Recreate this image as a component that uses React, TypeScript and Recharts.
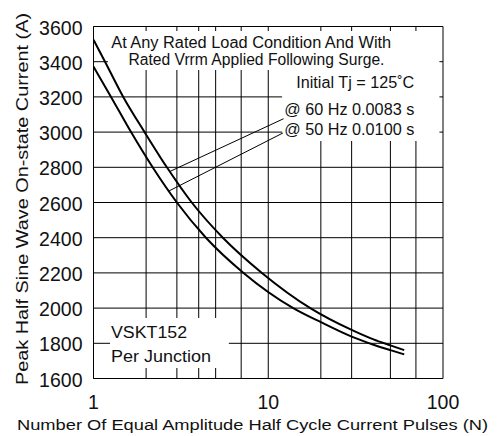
import {
  LineChart, Line, XAxis, YAxis, CartesianGrid, ReferenceArea, ReferenceLine, ReferenceDot,
} from 'recharts'

const FONT = '"Liberation Sans", Arial, Helvetica, sans-serif'
const INK = '#000'

// Curves (mostly where they cross the grid)
const PULSES_60HZ = [1, 1.164, 1.48, 1.96, 2.63, 3.65, 5.5, 9.2, 17.4, 30, 40, 50, 60]
const CURRENT_60HZ = [3525, 3400, 3200, 3000, 2800, 2600, 2400, 2200, 2000, 1876, 1822, 1788, 1761]
const PULSES_50HZ = [1, 1.26, 1.64, 2.18, 3.0, 4.4, 7.22, 13.9, 20, 30, 40, 50, 60]
const CURRENT_50HZ = [3372, 3200, 3000, 2800, 2600, 2400, 2200, 2000, 1920, 1838, 1792, 1761, 1737]

const X_TICKS = [1, 10, 100]
const X_GRID = [1, 2, 3, 4, 5, 6, 7, 8, 9, 10, 20, 30, 40, 50, 60, 70, 80, 90, 100]
const Y_TICKS = [1600, 1800, 2000, 2200, 2400, 2600, 2800, 3000, 3200, 3400, 3600]

const data60 = PULSES_60HZ.map((n, i) => ({ n, a: CURRENT_60HZ[i] }))
const data50 = PULSES_50HZ.map((n, i) => ({ n, a: CURRENT_50HZ[i] }))

// white panels behind the notes (data coords)
const PANELS = [
  { x1: 1.21, x2: 95.4, y1: 3353, y2: 3575 },
  { x1: 12.0, x2: 95.4, y1: 2950, y2: 3353 },
  { x1: 1.243, x2: 5.95, y1: 1660, y2: 1944 },
]

// leader lines from the notes to the curves
const LEADERS = [
  [{ x: 2.744, y: 2777 }, { x: 12.24, y: 3076 }],
  [{ x: 2.684, y: 2664 }, { x: 12.14, y: 2995 }],
]

const NOTES = [
  { text: 'At Any Rated Load Condition And With', n: 7.99, a: 3479, anchor: 'middle', len: 280 },
  { text: 'Rated Vrrm Applied Following Surge.', n: 8.56, a: 3381, anchor: 'middle', len: 256 },
  { text: 'Initial Tj = 125˚C', n: 14.47, a: 3249, anchor: 'start', len: 118 },
  { text: '@ 60 Hz 0.0083 s', n: 12.35, a: 3097, anchor: 'start', len: 130 },
  { text: '@ 50 Hz 0.0100 s', n: 12.35, a: 2983, anchor: 'start', len: 130 },
  { text: 'VSKT152', n: 1.26, a: 1832, anchor: 'start', len: 76 },
  { text: 'Per Junction', n: 1.26, a: 1691, anchor: 'start', len: 100 },
]

function YTick({ x, y, payload }: any) {
  return (
    <text x={x} y={y} dy={8} textAnchor="end" fontSize={19.5} fontFamily={FONT} fill="#111">
      {payload.value}
    </text>
  )
}

function XTick({ x, y, payload }: any) {
  return (
    <text x={x} y={y} dy={30} textAnchor="middle" fontSize={19.5} fontFamily={FONT} fill="#111">
      {payload.value}
    </text>
  )
}

export default function App() {
  return (
    <div style={{ width: 497, height: 436, background: '#fff' }}>
      <style>{'body{margin:0}'}</style>
      <LineChart width={497} height={436} margin={{ top: 26.5, right: 54, bottom: 0, left: 0 }}>
        <CartesianGrid stroke={INK} strokeWidth={1} verticalValues={X_GRID} horizontalValues={Y_TICKS} />
        <XAxis
          dataKey="n"
          type="number"
          scale="log"
          domain={[1, 100]}
          ticks={X_TICKS}
          allowDataOverflow
          height={57.5}
          tickSize={0}
          tickMargin={0}
          tickLine={false}
          axisLine={{ stroke: INK }}
          tick={<XTick />}
          label={{
            content: () => (
              <text x={252.5} y={430} textAnchor="middle" fontSize={15.5} fontFamily={FONT} fill="#111"
                    textLength={471} lengthAdjust="spacingAndGlyphs">
                Number Of Equal Amplitude Half Cycle Current Pulses (N)
              </text>
            ),
          }}
        />
        <YAxis
          dataKey="a"
          type="number"
          domain={[1600, 3600]}
          ticks={Y_TICKS}
          allowDataOverflow
          width={93.5}
          tickSize={0}
          tickMargin={11}
          tickLine={false}
          axisLine={{ stroke: INK }}
          tick={<YTick />}
          label={{
            content: () => (
              <text x={28} y={199} transform="rotate(-90 28 199)" textAnchor="middle" fontSize={16}
                    fontFamily={FONT} fill="#111" textLength={372} lengthAdjust="spacingAndGlyphs">
                Peak Half Sine Wave On-state Current (A)
              </text>
            ),
          }}
        />
        {PANELS.map((p, i) => (
          <ReferenceArea key={`p${i}`} x1={p.x1} x2={p.x2} y1={p.y1} y2={p.y2}
                         fill="#fff" fillOpacity={1} stroke="none" />
        ))}
        {LEADERS.map((seg, i) => (
          <ReferenceLine key={`l${i}`} segment={seg} stroke={INK} strokeWidth={1} />
        ))}
        {NOTES.map((t, i) => (
          <ReferenceDot
            key={`t${i}`}
            x={t.n}
            y={t.a}
            r={0}
            shape={(p: any) => (
              <text x={p.cx} y={p.cy} textAnchor={t.anchor} fontSize={16} fontFamily={FONT} fill="#111"
                    textLength={t.len} lengthAdjust="spacingAndGlyphs">
                {t.text}
              </text>
            )}
          />
        ))}
        <Line data={data60} dataKey="a" type="monotone" stroke={INK} strokeWidth={2} dot={false}
              isAnimationActive={false} />
        <Line data={data50} dataKey="a" type="monotone" stroke={INK} strokeWidth={2} dot={false}
              isAnimationActive={false} />
      </LineChart>
    </div>
  )
}
